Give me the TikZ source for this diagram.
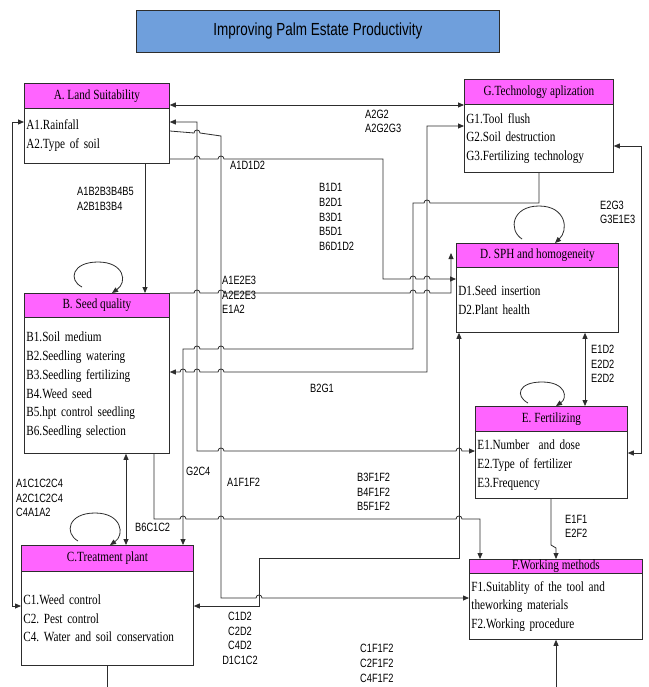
\documentclass[tikz,border=0pt]{standalone}
\usepackage{fontspec}
\setmainfont{Liberation Serif}[FakeStretch=0.8]
\newfontfamily\lblfont{Liberation Sans}[FakeStretch=0.77]
\usetikzlibrary{arrows.meta}
\definecolor{mag}{RGB}{255,100,255}
\definecolor{ttl}{RGB}{111,159,220}
\definecolor{ln}{RGB}{45,45,45}
\def\hopR#1#2{-- (#1-3,#2) .. controls (#1-3,#2-4) and (#1+3,#2-4) .. (#1+3,#2)}
\def\hopL#1#2{-- (#1+3,#2) .. controls (#1+3,#2-4) and (#1-3,#2-4) .. (#1-3,#2)}
\newcommand\boxfont{\frenchspacing\fontsize{14}{18.8}\selectfont\fontdimen2\font=2.8pt\relax}
\newcommand\hdrfont{\frenchspacing\fontsize{14}{16}\selectfont\fontdimen2\font=2.8pt\relax}
\newcommand\ttlfont{\lblfont\fontsize{17.5}{20}\selectfont\fontdimen2\font=3.8pt\relax}
\begin{document}
\frenchspacing
\begin{tikzpicture}[x=1pt,y=-1pt,
 hdr/.style={draw=ln, line width=0.8pt, fill=mag, anchor=north west, inner sep=0pt, font=\hdrfont},
 body/.style={draw=ln, line width=0.8pt, fill=white, anchor=north west, inner xsep=2pt, inner ysep=0pt, align=left, font=\boxfont},
 lbl/.style={inner sep=0pt, anchor=west, align=left, font=\lblfont\fontsize{12}{14.7}\selectfont},
 con/.style={draw=ln, line width=0.8pt},
 arr/.style={con, -{Triangle[length=6pt,width=5pt]}},
 dbl/.style={con, {Triangle[length=6pt,width=5pt]}-{Triangle[length=6pt,width=5pt]}},
]
\useasboundingbox (0,0) rectangle (648,687);
\fill[white] (0,0) rectangle (648,687);

% title
\node[draw=ln, line width=0.8pt, fill=ttl, minimum width=363pt, minimum height=42pt, anchor=north west,
      font=\ttlfont] (T) at (136,10) {Improving Palm Estate Productivity};

% boxes
\node[hdr, minimum width=145pt, minimum height=25pt] (Ah) at (24,83) {A. Land Suitability};
\node[body, text width=141pt, minimum height=55pt] (A) at (24,108) {A1.Rainfall\\A2.Type of soil};

\node[hdr, minimum width=149pt, minimum height=25pt] (Gh) at (464,79) {G.Technology aplization};
\node[body, text width=145pt, minimum height=68pt] (G) at (464,104) {G1.Tool flush\\G2.Soil destruction\\G3.Fertilizing technology};

\node[hdr, minimum width=162pt, minimum height=24pt] (Dh) at (456,243) {D. SPH and homogeneity};
\node[body, text width=158pt, minimum height=65pt] (D) at (456,267) {D1.Seed insertion\\D2.Plant health};

\node[hdr, minimum width=145pt, minimum height=24pt] (Bh) at (24,293) {B. Seed quality};
\node[body, text width=141pt, minimum height=136pt] (B) at (24,317) {B1.Soil medium\\B2.Seedling watering\\B3.Seedling fertilizing\\B4.Weed seed\\B5.hpt control seedling\\B6.Seedling selection};

\node[hdr, minimum width=152pt, minimum height=25pt] (Eh) at (475,406) {E. Fertilizing};
\node[body, text width=148pt, minimum height=67pt] (E) at (475,431) {E1.Number\ \ and dose\\E2.Type of fertilizer\\E3.Frequency};

\node[hdr, minimum width=172pt, minimum height=26pt] (Ch) at (21,545) {C.Treatment plant};
\node[body, text width=168pt, minimum height=94pt] (C) at (21,571) {C1.Weed control\\C2. Pest control\\C4. Water and soil conservation};

\node[hdr, minimum width=173pt, minimum height=14pt] (Fh) at (469,559) {F.Working methods};
\node[body, text width=169pt, minimum height=66pt] (F) at (469,573) {F1.Suitablity of the tool and\\theworking materials\\F2.Working procedure};

% free ends
\coordinate (dup) at (451,253);
\coordinate (fin) at (556,687);
\coordinate (cout) at (107,687);

% connectors
\draw[dbl] (Ah.east |- 0,105) -- (G.west |- 0,105);
\draw[arr] (G.south) -- (539,203) \hopL{427}{203} -- (413,203) -- (413,349) \hopL{221}{349} \hopL{197}{349} -- (183,349) -- (Ch.north -| 183,0);
\draw[dbl] (G.west |- 0,126) -- (427,126) -- (427,372) \hopL{221}{372} \hopL{197}{372} \hopL{183}{372} -- (B.east |- 0,372);
\draw[arr] (A.east |- 0,159) \hopR{197}{159} \hopR{221}{159} -- (383,159) -- (383,279) \hopR{413}{279} \hopR{427}{279} -- (D.west |- 0,279);
\draw[arr] (Bh.north east) \hopR{197}{293} \hopR{221}{293} \hopR{413}{293} \hopR{427}{293} -- (451,293) -- (dup);
\draw[dbl] (A.east |- 0,122) -- (197,122) -- (197,451) \hopR{221}{451} \hopR{459}{451} -- (E.west |- 0,451);
\draw[arr] (A.east |- 0,131) -- (194,133) .. controls (194,129) and (200,129) .. (200,133) -- (221,136) -- (221,598) \hopR{259}{598} -- (F.west |- 0,598);
\draw[dbl] (D.south -| 459,0) -- (459,558) -- (259,558) -- (259,606) -- (C.east |- 0,606);
\draw[arr] (B.south -| 154,0) -- (154,519) \hopR{183}{519} \hopR{221}{519} \hopR{459}{519} -- (480,519) -- (Fh.north -| 480,0);
\draw[dbl] (B.south -| 126,0) -- (Ch.north -| 126,0);
\draw[arr] (A.south -| 145,0) -- (Bh.north -| 145,0);
\draw[dbl] (A.west |- 0,122) -- (12,122) -- (12,606) -- (C.west |- 0,606);
\draw[dbl] (G.east |- 0,146) -- (641,146) -- (641,453) -- (E.east |- 0,453);
\draw[dbl] (D.south -| 585,0) -- (Eh.north -| 585,0);
\draw[arr] (E.south -| 551,0) -- (551,545) -- (556,548) -- (Fh.north -| 556,0);
\draw[arr] (fin) -- (F.south -| 556,0);
\draw[con] (C.south -| 107,0) -- (cout);

% self loops
\draw[arr] (82,287) .. controls (68,280) and (72,262) .. (98,262) .. controls (124,262) and (128,282) .. (Bh.north -| 112,0);
\draw[arr] (78,541) .. controls (64,533) and (68,513) .. (95,513) .. controls (122,513) and (125,535) .. (Ch.north -| 110,0);
\draw[arr] (522,239) .. controls (508,230) and (512,206) .. (539,206) .. controls (566,206) and (569,230) .. (Dh.north -| 555,0);
\draw[arr] (528,403) .. controls (515,396) and (518,382) .. (542,382) .. controls (566,382) and (568,398) .. (Eh.north -| 556,0);

% labels
\node[lbl] (l1) at (365,121.5) {A2G2\\A2G2G3};
\node[lbl] (l2) at (230,165) {A1D1D2};
\node[lbl] (l3) at (77,199) {A1B2B3B4B5\\A2B1B3B4};
\node[lbl] (l4) at (319,217) {B1D1\\B2D1\\B3D1\\B5D1\\B6D1D2};
\node[lbl] (l5) at (600,212.5) {E2G3\\G3E1E3};
\node[lbl] (l6) at (222,295) {A1E2E3\\A2E2E3\\E1A2};
\node[lbl] (l7) at (310,388) {B2G1};
\node[lbl] (l8) at (591,364) {E1D2\\E2D2\\E2D2};
\node[lbl] (l9) at (16,498) {A1C1C2C4\\A2C1C2C4\\C4A1A2};
\node[lbl] (l10) at (186,471) {G2C4};
\node[lbl] (l11) at (227,482) {A1F1F2};
\node[lbl] (l12) at (357,492) {B3F1F2\\B4F1F2\\B5F1F2};
\node[lbl] (l13) at (565,526.5) {E1F1\\E2F2};
\node[lbl] (l14) at (135,527) {B6C1C2};
\node[lbl, anchor=center, align=center] (l15) at (240,638.5) {C1D2\\C2D2\\C4D2\\D1C1C2};
\node[lbl] (l16) at (360,663.5) {C1F1F2\\C2F1F2\\C4F1F2};
\end{tikzpicture}
\end{document}
